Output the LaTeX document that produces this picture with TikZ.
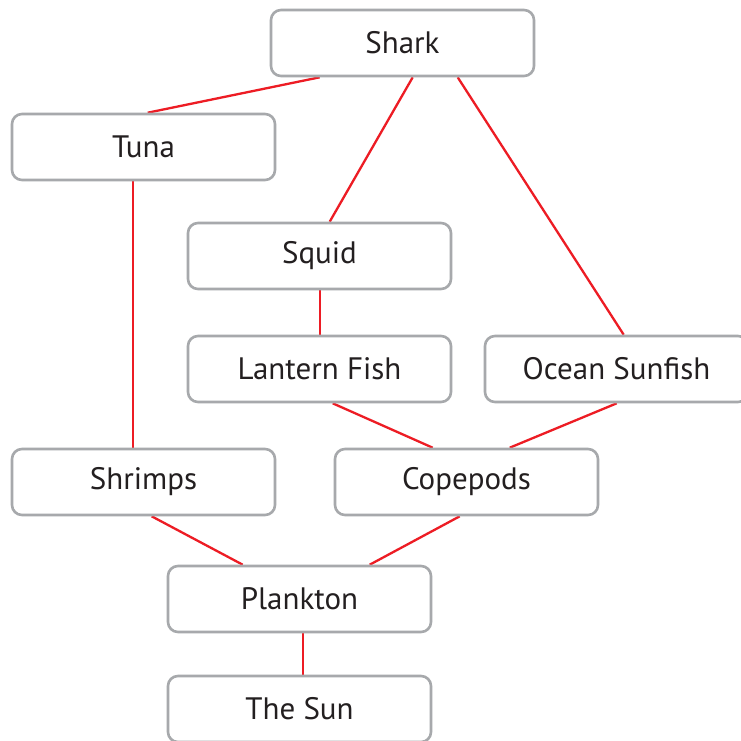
\documentclass[tikz,border=0pt]{standalone}
\usepackage{fontspec}
\setmainfont{PT Sans}
\usetikzlibrary{backgrounds}
\definecolor{boxgray}{HTML}{A7A9AC}
\definecolor{linkred}{HTML}{ED1C24}
\definecolor{txt}{HTML}{231F20}
\tikzset{
  species/.style={draw=boxgray, line width=2.6pt, rounded corners=10pt, fill=white,
    minimum width=263pt, minimum height=66pt, inner sep=0pt, text=txt,
    font=\fontsize{31}{36}\selectfont},
  link/.style={draw=linkred, line width=2.3pt}
}
\begin{document}
\begin{tikzpicture}[x=1pt,y=-1pt]
\clip (0,0) rectangle (741,740);
\node[species] (shark) at (402.5,43) {Shark};
\node[species] (tuna) at (143.5,147) {Tuna};
\node[species] (squid) at (319.5,256) {Squid};
\node[species] (lantern) at (319.5,369) {Lantern Fish};
\node[species] (ocean) at (616.5,369) {Ocean Sunfish};
\node[species] (shrimps) at (143.5,482) {Shrimps};
\node[species] (copepods) at (466.5,482) {Copepods};
\node[species] (plankton) at (299.5,599) {Plankton};
\node[species] (sun) at (299.5,709) {The Sun};
\begin{scope}[on background layer]
\fill[white] (0,0) rectangle (741,740);
\draw[link] ([xshift=50pt]shark.south west) -- ([xshift=137pt]tuna.north west);
\draw[link] ([xshift=143pt]shark.south west) -- ([xshift=143pt]squid.north west);
\draw[link] ([xshift=188pt]shark.south west) -- ([xshift=140pt]ocean.north west);
\draw[link] ([xshift=122pt]tuna.south west) -- ([xshift=122pt]shrimps.north west);
\draw[link] ([xshift=133pt]squid.south west) -- ([xshift=133pt]lantern.north west);
\draw[link] ([xshift=146pt]lantern.south west) -- ([xshift=99pt]copepods.north west);
\draw[link] ([xshift=133pt]ocean.south west) -- ([xshift=176pt]copepods.north west);
\draw[link] ([xshift=141pt]shrimps.south west) -- ([xshift=76pt]plankton.north west);
\draw[link] ([xshift=126pt]copepods.south west) -- ([xshift=203pt]plankton.north west);
\draw[link] ([xshift=136pt]plankton.south west) -- ([xshift=136pt]sun.north west);
\end{scope}
\end{tikzpicture}
\end{document}
